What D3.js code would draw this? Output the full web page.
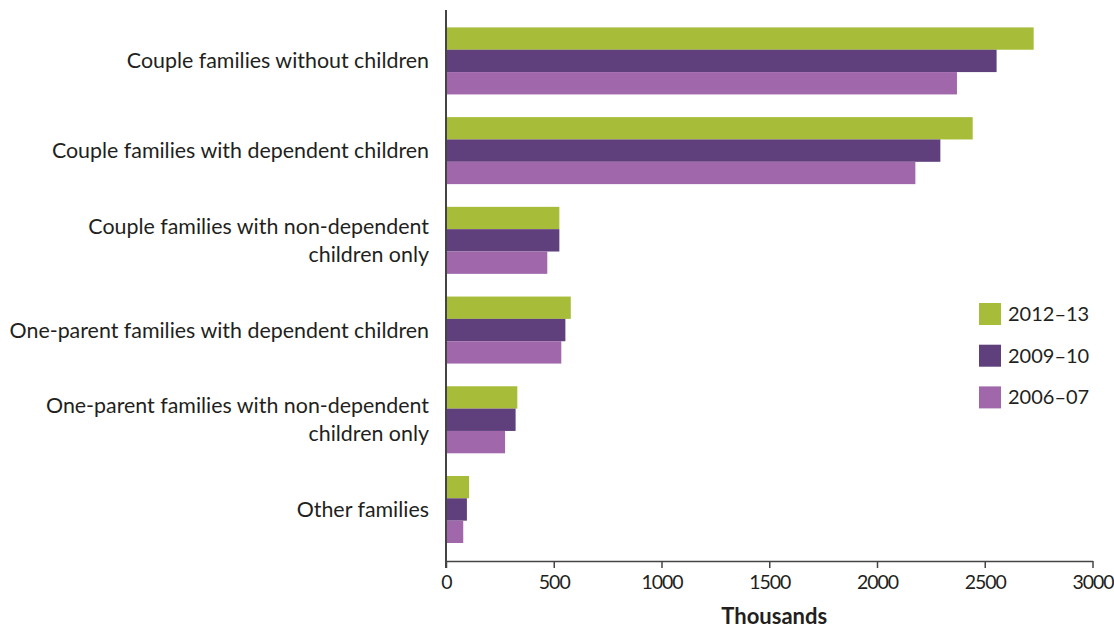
<!DOCTYPE html>
<html>
<head>
<meta charset="utf-8">
<script src="https://cdn.jsdelivr.net/npm/d3@7"></script>
<style>
  body { margin: 0; background: #fff; }
  text { font-family: Lato, "Liberation Sans", sans-serif; fill: #231f20; }
</style>
</head>
<body>
<script>
const categories = [
  'Couple families without children',
  'Couple families with dependent children',
  'Couple families with non-dependent|children only',
  'One-parent families with dependent children',
  'One-parent families with non-dependent|children only',
  'Other families'
]
const seriesNames = ['2012–13', '2009–10', '2006–07']
const values2012 = [2727, 2444, 526, 579, 331, 107]
const values2009 = [2555, 2294, 526, 554, 323, 97]
const values2006 = [2371, 2178, 470, 535, 274, 80]
const xTicks = [0, 500, 1000, 1500, 2000, 2500, 3000]
const colors = ['#a7bd3a', '#5f3f7c', '#a067ab']

const w = 1114
const h = 629
const left = 446
const right = 1092.5
const axisY = 561

const seriesValues = [values2012, values2009, values2006]
const rows = categories.map((c, i) => ({
  cat: c,
  vals: seriesValues.map((s, j) => ({ key: seriesNames[j], value: s[i], color: colors[j] }))
}))

const svg = d3.select('body')
  .append('svg')
  .attr('width', w)
  .attr('height', h)

const xScale = d3.scaleLinear()
  .domain([0, 3000])
  .range([left, right])

const yScale = d3.scaleBand()
  .domain(categories)
  .range([16.1, 554.3])
  .paddingInner(0.253)
  .paddingOuter(0.126)

const ySub = d3.scaleBand()
  .domain(seriesNames)
  .range([0, yScale.bandwidth()])

// bars
const groups = svg.selectAll('g.group')
  .data(rows)
  .enter()
  .append('g')
  .attr('class', 'group')
  .attr('transform', d => 'translate(0,' + yScale(d.cat) + ')')

groups.selectAll('rect')
  .data(d => d.vals)
  .enter()
  .append('rect')
  .attr('x', xScale(0))
  .attr('y', d => ySub(d.key))
  .attr('width', d => xScale(d.value) - xScale(0))
  .attr('height', ySub.bandwidth())
  .attr('fill', d => d.color)

// category labels
groups.each(function (d) {
  const lines = d.cat.split('|')
  const t = d3.select(this).append('text')
    .attr('text-anchor', 'end')
    .attr('font-size', 21.4)
  const mid = yScale.bandwidth() / 2
  const lh = 28
  lines.forEach((ln, k) => {
    t.append('tspan')
      .attr('x', 429)
      .attr('y', mid + (k - (lines.length - 1) / 2) * lh)
      .attr('dy', '0.35em')
      .text(ln)
  })
})

// x axis
const xAxis = d3.axisBottom(xScale)
  .tickValues(xTicks)
  .tickFormat(d3.format('d'))
  .tickSize(7)
  .tickSizeOuter(0)

const gx = svg.append('g')
  .attr('id', 'x-axis')
  .attr('transform', 'translate(0,' + axisY + ')')
  .call(xAxis)
gx.select('.domain').attr('stroke', '#444').attr('stroke-width', 1.5)
gx.selectAll('.tick line').attr('stroke', '#444').attr('stroke-width', 1.5)
gx.selectAll('.tick text')
  .attr('y', 14)
  .attr('font-size', 19.5)
  .attr('letter-spacing', -1)
  .attr('font-family', 'Lato, "Liberation Sans", sans-serif')
  .attr('fill', '#231f20')

// y axis line
svg.append('line')
  .attr('x1', xScale(0))
  .attr('x2', xScale(0))
  .attr('y1', 10)
  .attr('y2', axisY + 7)
  .attr('stroke', '#444')
  .attr('stroke-width', 2)

svg.append('text')
  .attr('x', (left + right) / 2 + 5)
  .attr('y', 624)
  .attr('text-anchor', 'middle')
  .attr('font-size', 22)
  .attr('font-weight', 'bold')
  .text('Thousands')

// legend
const legend = svg.selectAll('g.legend')
  .data(seriesNames)
  .enter()
  .append('g')
  .attr('class', 'legend')
  .attr('transform', (d, i) => 'translate(979,' + (303 + i * 41.7) + ')')

legend.append('rect')
  .attr('width', 22)
  .attr('height', 22)
  .attr('fill', (d, i) => colors[i])

legend.append('text')
  .attr('x', 29)
  .attr('y', 11)
  .attr('dy', '0.35em')
  .attr('font-size', 20)
  .text(d => d)
</script>
</body>
</html>
